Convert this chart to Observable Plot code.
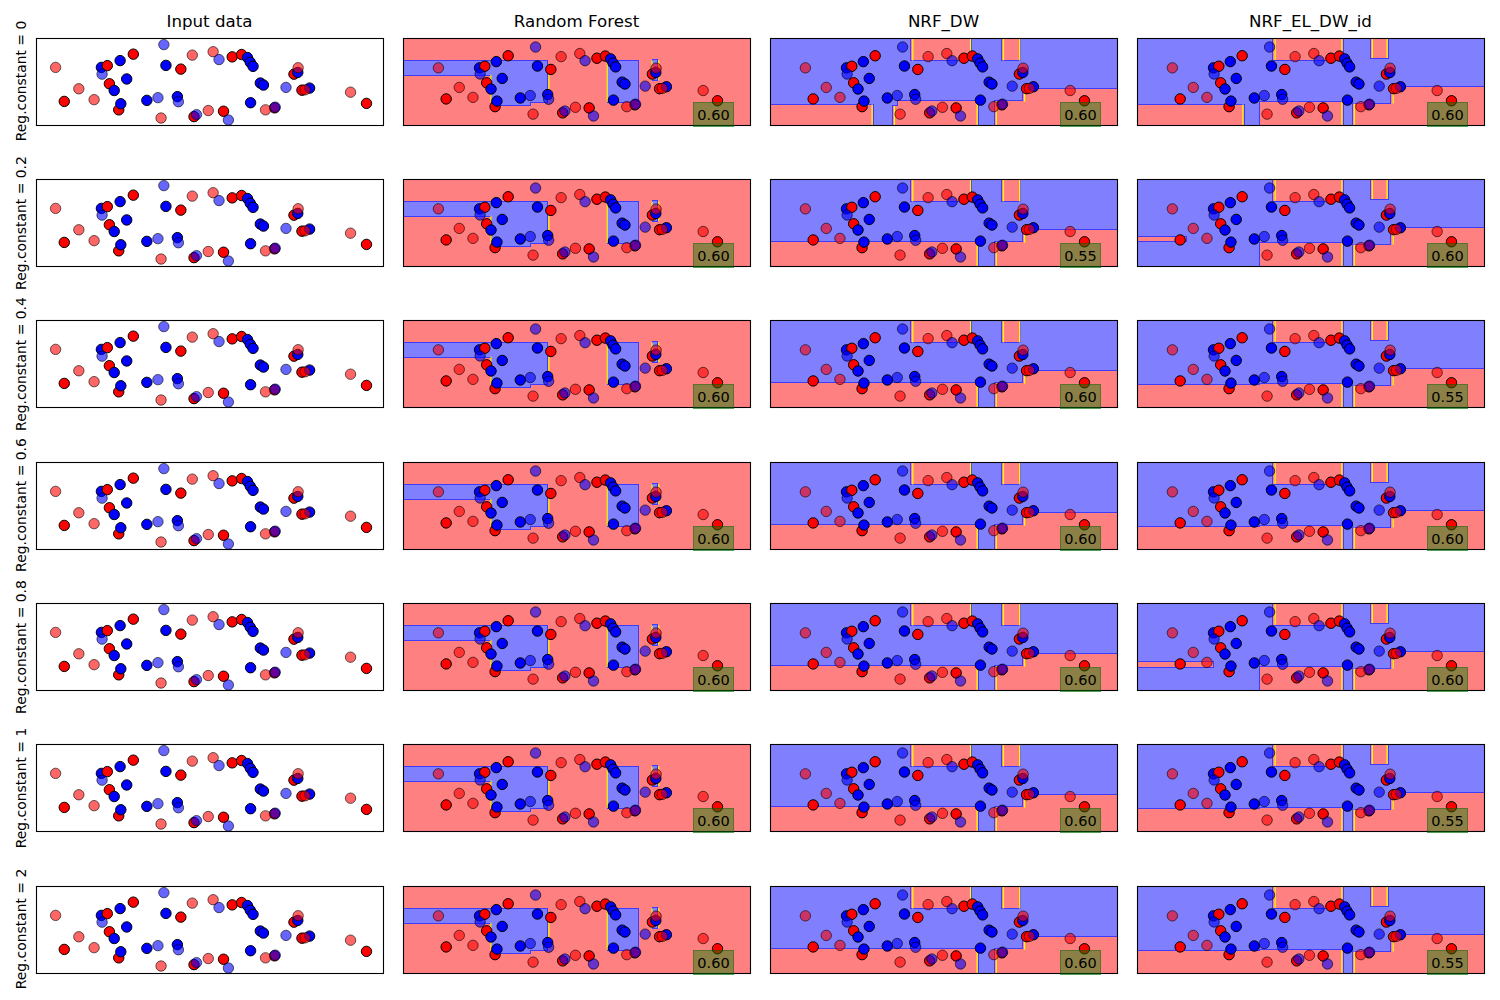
<!DOCTYPE html>
<html><head><meta charset="utf-8">
<script src="https://cdn.jsdelivr.net/npm/d3@7"></script>
<script src="https://cdn.jsdelivr.net/npm/@observablehq/plot@0.6"></script>
<style>
body{margin:0;background:#fff;font-family:"DejaVu Sans",sans-serif;}
#fig{position:relative;width:1500px;height:1000px;overflow:hidden;}
.title{position:absolute;font-size:16.67px;line-height:20px;text-align:center;width:347px;color:#000;}
.rowlab{position:absolute;font-size:13.9px;line-height:16px;white-space:nowrap;transform:translate(-50%,-50%) rotate(-90deg);color:#000;}
.score{position:absolute;width:41px;height:25px;line-height:25px;text-align:center;font-size:14.5px;background:rgba(0,128,0,0.45);color:#000;box-sizing:border-box;border:1px solid rgba(0,90,0,0.35);}
.panel{position:absolute;}
</style></head>
<body><div id="fig"></div>
<script>
// ---------- data ----------
const columnTitles = ["Input data", "Random Forest", "NRF_DW", "NRF_EL_DW_id"];
const regConstants = ["0", "0.2", "0.4", "0.6", "0.8", "1", "2"];
const scoresRF = ["0.60", "0.60", "0.60", "0.60", "0.60", "0.60", "0.60"];
const scoresDW = ["0.60", "0.55", "0.60", "0.60", "0.60", "0.60", "0.60"];
const scoresEL = ["0.60", "0.60", "0.55", "0.60", "0.60", "0.55", "0.55"];

// training points [x, y, class]  (class 0 = red, 1 = blue)
const trainPoints = [
  [8.0, 27.7, 0], [18.7, 66.8, 1], [20.4, 68.8, 0], [21.0, 48.0, 0], [22.4, 40.2, 1],
  [24.1, 74.6, 1], [23.7, 18.0, 0], [24.3, 25.0, 1], [26.0, 53.5, 1], [27.9, 82.0, 0],
  [31.8, 28.9, 1], [37.3, 69.1, 1], [40.6, 33.2, 1], [41.6, 64.8, 0], [45.4, 10.2, 0],
  [53.9, 16.4, 0], [56.4, 78.9, 0], [59.1, 81.6, 0], [60.8, 78.1, 1], [61.6, 72.7, 1],
  [62.4, 68.0, 1], [64.5, 48.8, 1], [65.4, 46.5, 1], [61.7, 26.2, 1], [68.6, 20.3, 0],
  [74.2, 59.0, 0], [75.3, 61.0, 1], [76.5, 40.6, 0], [78.7, 43.0, 1], [95.1, 25.4, 0]
];
// test points [x, y, class]
const testPoints = [
  [5.5, 66.8, 0], [12.2, 42.2, 0], [16.6, 29.7, 0], [18.9, 59.0, 1], [35.0, 32.0, 1],
  [36.7, 93.0, 1], [40.9, 27.3, 1], [44.9, 80.9, 0], [35.9, 8.6, 0], [46.1, 12.5, 1],
  [49.5, 17.2, 0], [50.9, 84.8, 0], [52.6, 75.8, 1], [55.3, 6.3, 1], [66.0, 18.0, 0],
  [68.8, 21.1, 1], [71.9, 43.8, 1], [75.4, 66.4, 0], [77.4, 41.0, 0], [90.5, 38.3, 0]
];

const ALL = [0, 1, 2, 3, 4, 5, 6];
// decision regions; e = which vertical edges show the thin yellow contour line
// Random Forest: blue regions over a red background
const rfBlue = [
  {x1: -5.7, x2: 40.6, y1: 57.5, y2: 74.6, rows: ALL, e: ""},
  {x1: 22.8, x2: 40.6, y1: 23.4, y2: 57.5, rows: ALL, e: "lr"},
  {x1: 24.9, x2: 35.1, y1: 20.0, y2: 23.4, rows: ALL, e: ""},
  {x1: 60.1, x2: 69.7, y1: 23.4, y2: 74.6, rows: ALL, e: "l"},
  {x1: 74.5, x2: 75.9, y1: 51.1, y2: 75.5, rows: ALL, e: "lr"}
];
// NRF_DW: red regions over a blue background
const dwRed = [
  {x1: 39.6, x2: 58.9, y1: 75.5, y2: 103.7, rows: ALL, e: "lr"},
  {x1: 68.7, x2: 74.7, y1: 75.5, y2: 103.7, rows: ALL, e: "lr"},
  {x1: -5.7, x2: 27.3, y1: -5.7, y2: 20.0, rows: [0], e: "r"},
  {x1: 33.7, x2: 35.3, y1: -5.7, y2: 18.2, rows: [0], e: "l"},
  {x1: -5.7, x2: 35.3, y1: -5.7, y2: 25.0, rows: [1, 2, 3, 4, 5, 6], e: ""},
  {x1: 35.3, x2: 61.0, y1: -5.7, y2: 25.0, rows: ALL, e: "r"},
  {x1: 66.4, x2: 105.7, y1: -5.7, y2: 24.0, rows: ALL, e: "l"},
  {x1: 75.5, x2: 105.7, y1: 23.4, y2: 39.6, rows: ALL, e: "l"}
];
// NRF_EL_DW_id: red regions over a blue background
const elRed = [
  {x1: 38.1, x2: 60.3, y1: 76.5, y2: 103.7, rows: ALL, e: "lr"},
  {x1: 69.3, x2: 74.8, y1: 78.5, y2: 103.7, rows: ALL, e: "lr"},
  {x1: -5.7, x2: 28.5, y1: -5.7, y2: 20.0, rows: [0], e: "r"},
  {x1: -5.7, x2: 33.9, y1: -5.7, y2: 22.5, rows: [2, 3, 5, 6], e: ""},
  {x1: -5.7, x2: 10.1, y1: 25.4, y2: 30.5, rows: [1], e: ""},
  {x1: -5.7, x2: 18.7, y1: 22.7, y2: 29.1, rows: [4], e: ""},
  {x1: 33.9, x2: 60.3, y1: -5.7, y2: 23.4, rows: ALL, e: "r"},
  {x1: 63.5, x2: 105.7, y1: -5.7, y2: 21.2, rows: ALL, e: "l"},
  {x1: 76.0, x2: 105.7, y1: 21.2, y2: 42.0, rows: ALL, e: "l"}
];

// ---------- layout ----------
const colX = [36, 403, 770, 1137];
const rowY = [37.5, 179, 320, 461.5, 603, 744, 885.5];
const W = 347, H = 87;
const fig = document.getElementById("fig");

const toObj = a => ({x: a[0], y: a[1], c: a[2]});
const train = trainPoints.map(toObj);
const test = testPoints.map(toObj);

const RED_BG = "#ff8080", BLUE_BG = "#8080ff", EDGE = "#3c3cff", YEL = "#ffff00";

function pointMarks() {
  return [
    Plot.dot(train, {x: "x", y: "y", r: 5.2, fill: "c", stroke: "black", strokeWidth: 1}),
    Plot.dot(test, {x: "x", y: "y", r: 5.2, fill: "c", stroke: "black", strokeWidth: 1, fillOpacity: 0.6, strokeOpacity: 0.6})
  ];
}

function makePanel(col, row) {
  let marks = [];
  let xd = [0, 100], yd = [0, 100];
  if (col > 0) {
    xd = [-5.7, 105.7]; yd = [-5.7, 103.7];
    const base = col === 1 ? RED_BG : BLUE_BG;
    const over = col === 1 ? BLUE_BG : RED_BG;
    const regions = (col === 1 ? rfBlue : col === 2 ? dwRed : elRed).filter(d => d.rows.includes(row));
    const opts = {x1: "x1", x2: "x2", y1: "y1", y2: "y2", fill: over, clip: true, shapeRendering: "crispEdges"};
    // yellow on the red side of the boundary
    const sgn = col === 1 ? -1 : 1;
    marks.push(Plot.frame({fill: base, stroke: null}));
    marks.push(Plot.rect(regions, {...opts, stroke: EDGE, strokeWidth: 2}));
    marks.push(Plot.rect(regions, opts));
    marks.push(Plot.ruleX(regions.filter(d => d.e.includes("l")), {x: "x1", y1: "y1", y2: "y2", stroke: YEL, strokeWidth: 1.2, dx: 1.2 * sgn, clip: true}));
    marks.push(Plot.ruleX(regions.filter(d => d.e.includes("r")), {x: "x2", y1: "y1", y2: "y2", stroke: YEL, strokeWidth: 1.2, dx: -1.2 * sgn, clip: true}));
  }
  marks = marks.concat(pointMarks());
  marks.push(Plot.frame({stroke: "black", strokeWidth: 1.1}));
  const svg = Plot.plot({
    width: W + 2, height: H + 2, margin: 1,
    x: {domain: xd, axis: null},
    y: {domain: yd, axis: null},
    color: {type: "ordinal", domain: [0, 1], range: ["#ff0000", "#0000ff"]},
    style: {background: "transparent", overflow: "visible"},
    marks
  });
  svg.classList.add("panel");
  svg.style.left = (colX[col] - 1) + "px";
  svg.style.top = (rowY[row] - 1) + "px";
  fig.appendChild(svg);

  if (col > 0) {
    const s = (col === 1 ? scoresRF : col === 2 ? scoresDW : scoresEL)[row];
    const box = document.createElement("div");
    box.className = "score";
    box.textContent = s;
    box.style.left = (colX[col] + W - 16 - 41) + "px";
    box.style.top = (rowY[row] + H - 23) + "px";
    fig.appendChild(box);
  }
}

for (let r = 0; r < 7; r++) for (let c = 0; c < 4; c++) makePanel(c, r);

columnTitles.forEach((t, i) => {
  const d = document.createElement("div");
  d.className = "title";
  d.textContent = t;
  d.style.left = colX[i] + "px";
  d.style.top = "12px";
  fig.appendChild(d);
});
regConstants.forEach((v, i) => {
  const d = document.createElement("div");
  d.className = "rowlab";
  d.textContent = "Reg.constant = " + v;
  d.style.left = "21px";
  d.style.top = (rowY[i] + H / 2) + "px";
  fig.appendChild(d);
});
</script>
</body></html>
